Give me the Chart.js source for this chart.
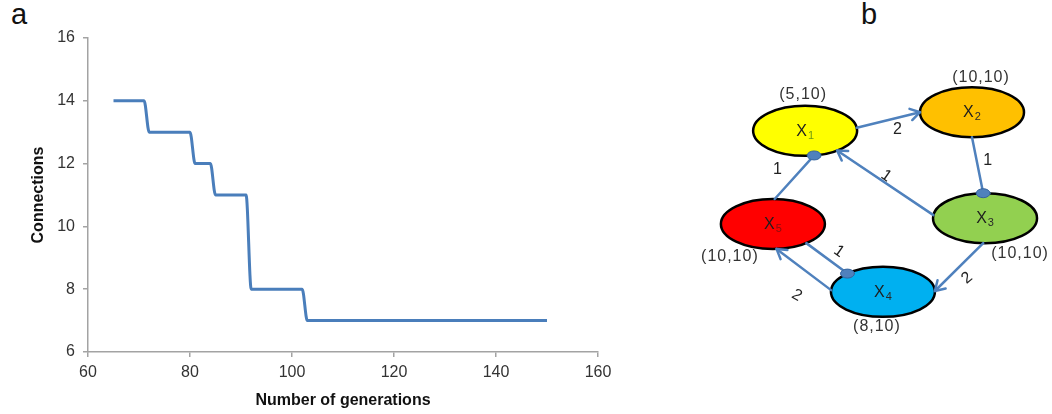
<!DOCTYPE html>
<html lang="en">
<head>
<meta charset="UTF-8">
<title>Connections per generation and network</title>
<script src="https://cdn.jsdelivr.net/npm/chart.js"></script>
<style>
  html, body { margin: 0; padding: 0; background: #fff; }
  body {
    width: 1052px; height: 414px; position: relative; overflow: hidden;
    font-family: "Liberation Sans", Arial, sans-serif;
  }
  canvas { position: absolute; top: 0; }
  #curve { left: 0; }
  #net { left: 690px; }
  .tag { position: absolute; top: 0; font-size: 29px; line-height: 28px; color: #111; }
</style>
</head>
<body>
<span class="tag" style="left:11px">a</span>
<span class="tag" style="left:861px">b</span>
<canvas id="curve" width="640" height="414"></canvas>
<canvas id="net" width="362" height="414"></canvas>

<script>
// panel a: corners of the step curve
const generations = [65, 71, 72, 80, 81, 84, 85, 91, 92, 102, 103, 150];
const connections = [14, 14, 13, 13, 12, 12, 11, 11, 8, 8, 7, 7];
const genTicks = [60, 80, 100, 120, 140, 160];
const connTicks = [6, 8, 10, 12, 14, 16];

// panel b: nodes on a 0-100 plane
const nodeIds = ['1', '2', '3', '4', '5'];
const nodeX = [31.8, 77.9, 81.5, 53.3, 22.9];
const nodeY = [68.4, 72.9, 47.3, 29.5, 45.9];
const nodeTags = ['(5,10)', '(10,10)', '(10,10)', '(8,10)', '(10,10)'];

// panel b: links (index into nodes), weight and what sits at the target end
const edgeFrom = [0, 1, 2, 4, 4, 3, 2];
const edgeTo = [1, 2, 0, 0, 3, 4, 3];
const edgeWeight = ['2', '1', '1', '1', '1', '2', '2'];
const edgeHead = ['arrow', 'dot', 'arrow', 'dot', 'dot', 'arrow', 'arrow'];

// drawing style for the network
const nodeFill = ['#FFFF00', '#FFC000', '#92D050', '#00B0F0', '#FF0000'];
const subColor = ['#6f9a12', '#2a2a2a', '#2a2a2a', '#2a2a2a', '#8a0d0d'];
const tagShift = [[-2, -36], [9, -35], [35, 35], [-6, 35], [-43, 33]];
const edgePorts = [[-7, 180], [90, -92], [187, 52], [-88, 80], [50, -133], [184, 86], [92, -2]];
const labelShift = [[9, 10], [10, -5], [1, -7], [-17, -8], [12, -7], [-7, 26], [8, 11]];
const labelTurn = [0, 0, 35, 0, 35, 30, -40];
const RX = 52, RY = 25;
const LINK = '#4F81BD';

Chart.defaults.font.family = '"Liberation Sans", Arial, sans-serif';

const axisGray = '#a3a3a3';

new Chart(document.getElementById('curve'), {
  type: 'line',
  data: {
    datasets: [{
      data: generations.map((g, i) => ({ x: g, y: connections[i] })),
      borderColor: '#4A7EBB',
      borderWidth: 3,
      pointRadius: 0,
      cubicInterpolationMode: 'monotone',
      fill: false
    }]
  },
  options: {
    responsive: false,
    animation: false,
    layout: { padding: { left: 25, top: 38, right: 42, bottom: 4 } },
    plugins: { legend: { display: false }, tooltip: { enabled: false } },
    scales: {
      x: {
        type: 'linear', min: 60, max: 160,
        afterBuildTicks: s => { s.ticks = genTicks.map(v => ({ value: v })); },
        afterFit: s => { s.height = 58; },
        grid: { drawOnChartArea: false, tickLength: 5, color: axisGray, lineWidth: 1.5 },
        border: { color: axisGray, width: 1.5 },
        ticks: { font: { size: 16 }, color: '#333', padding: 6, maxRotation: 0 },
        title: {
          display: true, text: 'Number of generations', color: '#111',
          font: { size: 16, weight: 'bold' }, padding: { top: 4, bottom: 0 }
        }
      },
      y: {
        type: 'linear', min: 6, max: 16,
        afterBuildTicks: s => { s.ticks = connTicks.map(v => ({ value: v })); },
        afterFit: s => { s.width = 63; },
        grid: { drawOnChartArea: false, tickLength: 5, color: axisGray, lineWidth: 1.5 },
        border: { color: axisGray, width: 1.5 },
        ticks: { font: { size: 16 }, color: '#333', padding: 8 },
        title: {
          display: true, text: 'Connections', color: '#111',
          font: { size: 16, weight: 'bold' }, padding: { top: 4, bottom: 0 }
        }
      }
    }
  }
});

// open arrow head at (x1, y1) pointing away from (x0, y0)
function chevron(ctx, x0, y0, x1, y1) {
  const a = Math.atan2(y1 - y0, x1 - x0), len = 11, spread = 0.55;
  ctx.beginPath();
  ctx.moveTo(x1 - len * Math.cos(a - spread), y1 - len * Math.sin(a - spread));
  ctx.lineTo(x1, y1);
  ctx.lineTo(x1 - len * Math.cos(a + spread), y1 - len * Math.sin(a + spread));
  ctx.stroke();
}

const networkPlugin = {
  id: 'network',
  afterDatasetsDraw(chart) {
    const ctx = chart.ctx;
    const pts = chart.getDatasetMeta(0).data;
    const port = (i, deg) => {
      const a = deg * Math.PI / 180;
      return [pts[i].x + RX * Math.cos(a), pts[i].y + RY * Math.sin(a)];
    };
    ctx.save();

    // nodes
    pts.forEach((p, i) => {
      ctx.beginPath();
      ctx.ellipse(p.x, p.y, RX, RY, 0, 0, Math.PI * 2);
      ctx.fillStyle = nodeFill[i];
      ctx.fill();
      ctx.lineWidth = 2.5;
      ctx.strokeStyle = '#000';
      ctx.stroke();

      ctx.font = '16px "Liberation Sans", Arial, sans-serif';
      const wx = ctx.measureText('X').width;
      ctx.font = '11px "Liberation Sans", Arial, sans-serif';
      const ws = ctx.measureText(nodeIds[i]).width;
      const x0 = p.x - (wx + ws + 1) / 2;
      ctx.textAlign = 'left';
      ctx.textBaseline = 'alphabetic';
      ctx.fillStyle = '#1e1e1e';
      ctx.font = '16px "Liberation Sans", Arial, sans-serif';
      ctx.fillText('X', x0, p.y + 5);
      ctx.fillStyle = subColor[i];
      ctx.font = '11px "Liberation Sans", Arial, sans-serif';
      ctx.fillText(nodeIds[i], x0 + wx + 1, p.y + 8);

      ctx.fillStyle = '#333';
      ctx.font = '16px "Liberation Sans", Arial, sans-serif';
      ctx.letterSpacing = '1px';
      ctx.textAlign = 'center';
      ctx.textBaseline = 'middle';
      ctx.fillText(nodeTags[i], p.x + tagShift[i][0], p.y + tagShift[i][1]);
      ctx.letterSpacing = '0px';
    });

    // links
    ctx.strokeStyle = LINK;
    ctx.lineWidth = 2.5;
    ctx.lineCap = 'round';
    ctx.lineJoin = 'round';
    edgeFrom.forEach((f, k) => {
      const [x0, y0] = port(f, edgePorts[k][0]);
      const [x1, y1] = port(edgeTo[k], edgePorts[k][1]);
      ctx.beginPath();
      ctx.moveTo(x0, y0);
      ctx.lineTo(x1, y1);
      ctx.stroke();
      if (edgeHead[k] === 'arrow') {
        chevron(ctx, x0, y0, x1, y1);
      } else {
        ctx.beginPath();
        ctx.ellipse(x1, y1, 7, 4.5, 0, 0, Math.PI * 2);
        ctx.fillStyle = LINK;
        ctx.fill();
        ctx.lineWidth = 1;
        ctx.strokeStyle = '#36649c';
        ctx.stroke();
        ctx.lineWidth = 2.5;
        ctx.strokeStyle = LINK;
      }

      ctx.save();
      ctx.translate((x0 + x1) / 2 + labelShift[k][0], (y0 + y1) / 2 + labelShift[k][1]);
      ctx.rotate(labelTurn[k] * Math.PI / 180);
      ctx.fillStyle = '#222';
      ctx.font = '16px "Liberation Sans", Arial, sans-serif';
      ctx.textAlign = 'center';
      ctx.textBaseline = 'middle';
      ctx.fillText(edgeWeight[k], 0, 0);
      ctx.restore();
    });

    ctx.restore();
  }
};

new Chart(document.getElementById('net'), {
  type: 'scatter',
  data: {
    datasets: [{
      data: nodeX.map((v, i) => ({ x: v, y: nodeY[i] })),
      pointRadius: 0
    }]
  },
  options: {
    responsive: false,
    animation: false,
    layout: { padding: 0 },
    plugins: { legend: { display: false }, tooltip: { enabled: false } },
    scales: {
      x: { display: false, min: 0, max: 100 },
      y: { display: false, min: 0, max: 100 }
    }
  },
  plugins: [networkPlugin]
});
</script>
</body>
</html>
